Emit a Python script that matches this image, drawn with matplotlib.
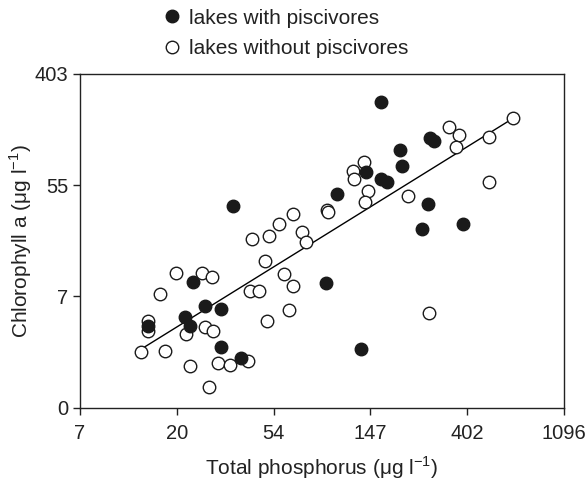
import matplotlib
matplotlib.use("Agg")
import matplotlib.pyplot as plt
import numpy as np

plt.rcParams['font.family'] = ['Liberation Sans', 'DejaVu Sans']
plt.rcParams['mathtext.fontset'] = 'custom'
plt.rcParams['mathtext.rm'] = 'Liberation Sans'

# natural-log values: ln(TP), ln(Chl a)
with_x = [3.58, 5.11, 5.62, 5.66, 5.31, 5.33, 4.95, 5.11, 5.17, 4.65, 5.59, 5.53, 5.96,
          2.70, 3.08, 3.14, 3.17, 3.29, 3.46, 3.46, 3.66, 4.54, 4.90]
with_y = [3.63, 5.49, 4.85, 4.80, 4.63, 4.34, 4.24, 4.11, 4.05, 3.84, 3.66, 3.21, 3.30,
          1.47, 1.63, 1.47, 2.26, 1.82, 1.78, 1.09, 0.89, 2.24, 1.05]

without_x = [3.78, 3.95, 4.06, 4.20, 4.29, 4.33, 6.47, 5.81, 5.92, 6.23, 5.88, 4.93, 4.82,
             4.83, 4.97, 4.94, 4.55, 4.56, 5.39, 6.22, 2.63, 2.70, 2.70, 2.83, 2.88, 2.99,
             3.09, 3.14, 3.26, 3.36, 3.29, 3.37, 3.33, 3.43, 3.55, 3.74, 3.76, 3.85, 3.91,
             3.93, 4.11, 4.20, 4.16, 5.61]
without_y = [3.03, 3.08, 3.30, 3.48, 3.15, 2.97, 5.20, 5.05, 4.90, 4.87, 4.69, 4.41, 4.26,
             4.11, 3.90, 3.69, 3.56, 3.51, 3.81, 4.05, 1.00, 1.55, 1.37, 2.04, 1.02, 2.42,
             1.33, 0.74, 2.42, 2.34, 1.45, 1.37, 0.38, 0.80, 0.76, 0.83, 2.09, 2.10, 2.64,
             1.56, 2.40, 2.18, 1.76, 1.70]

# regression line in ln-ln space
fit_slope = 1.08
fit_intercept = -1.79
fit_range = [2.63, 6.47]

xtick_labels = ['7', '20', '54', '147', '402', '1096']
ytick_labels = ['0', '7', '55', '403']

fig = plt.figure(figsize=(5.86, 4.83), dpi=100)
ax = fig.add_axes([0.1365, 0.156, 0.826, 0.691])

fx = np.array(fit_range)
ax.plot(fx, fit_intercept + fit_slope * fx, color='black', lw=1, zorder=1)

ax.plot(with_x, with_y, 'o', ms=9, mfc='#1a1a1a', mec='#1a1a1a', mew=1,
        label='lakes with piscivores', zorder=3)
ax.plot(without_x, without_y, 'o', ms=9, mfc='white', mec='#1a1a1a', mew=1,
        label='lakes without piscivores', zorder=2)

ax.set_xlim(2, 7)
ax.set_ylim(0, 6)
ax.set_xticks([2, 3, 4, 5, 6, 7])
ax.set_xticklabels(xtick_labels)
ax.set_yticks([0, 2, 4, 6])
ax.set_yticklabels(ytick_labels)
ax.tick_params(labelsize=14.5, length=5, width=1, color='#222222', labelcolor='#222222')
ax.tick_params(axis='x', pad=7)
for s in ax.spines.values():
    s.set_linewidth(1)
    s.set_color('#222222')

ax.set_xlabel(r'Total phosphorus (μg l$^{-1}$)', fontsize=15, color='#222222', labelpad=8)
ax.set_ylabel(r'Chlorophyll a (μg l$^{-1}$)', fontsize=15, color='#222222', labelpad=0.5)

fig.legend(loc='upper left', bbox_to_anchor=(161.6 / 586, 0.982), frameon=False, fontsize=15,
           handletextpad=0.3, labelspacing=0.55, borderpad=0, borderaxespad=0,
           handlelength=1.0, labelcolor='#222222')

fig.savefig('out.png', dpi=100)
